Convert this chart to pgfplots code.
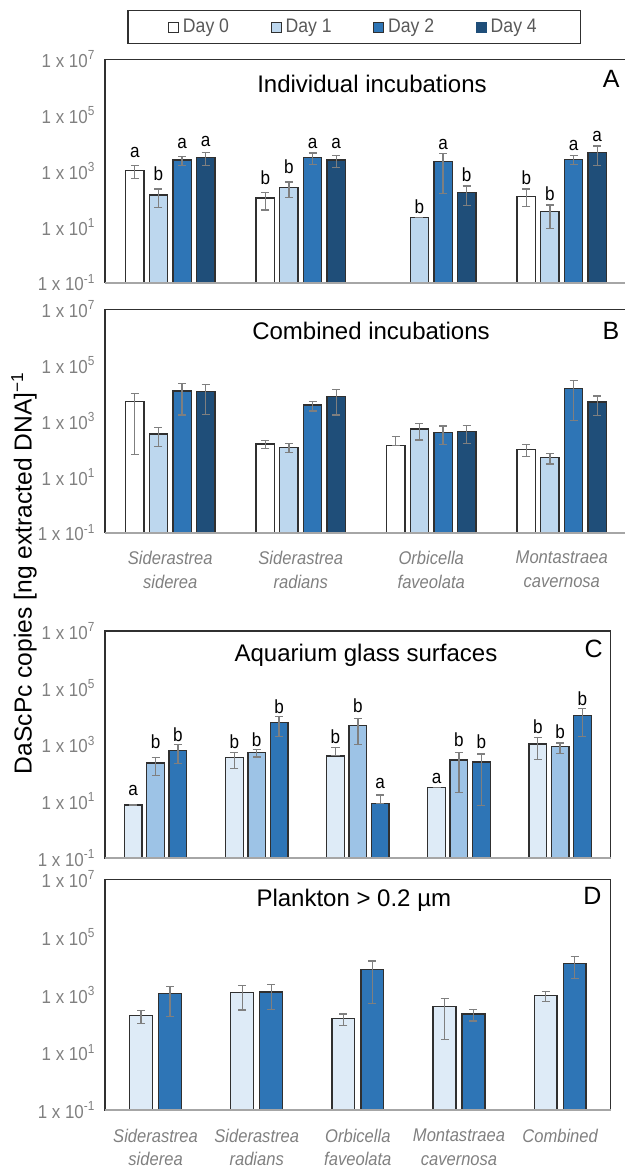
\documentclass[border=0pt]{standalone}
\usepackage{pgfplots}
\pgfplotsset{compat=1.18}
\usepackage{pgfplotstable}
\usepackage{fontspec}
\setmainfont{Liberation Sans}
\newfontfamily\narrow[FakeStretch=0.9]{Liberation Sans}

\definecolor{cD1}{HTML}{BDD7EE}
\definecolor{cD2}{HTML}{2E75B6}
\definecolor{cD4}{HTML}{1F4E79}
\definecolor{cL0}{HTML}{DEEBF7}
\definecolor{cL1}{HTML}{9DC3E6}
\definecolor{edge}{HTML}{303030}
\definecolor{errc}{HTML}{7F7F7F}
\definecolor{tickc}{HTML}{808080}
\definecolor{legc}{HTML}{595959}
\definecolor{basec}{HTML}{A6A6A6}

\pgfplotstableread{
x d0 d0p d0m d1 d1p d1m d2 d2p d2m d4 d4p d4m
0 1070 480 535 138 86 88 2455 856 906 3020 1657 1471
1 107 63 67 263 144 151 3020 1345 1360 2455 1176 1106
2 nan nan nan 21.9 0 0 2239 2027 2081 170 118 111
3 120 109 68 34.7 25.6 25.8 2570 1061 910 4571 3372 2986
}\tabA
\pgfplotstableread{
x y t
-0.2715 3020 a
-0.0905 468 b
0.0905 6166 a
0.2715 7413 a
0.7285 339 b
0.9095 813 b
1.0905 6457 a
1.2715 6457 a
1.9095 30.2 b
2.0905 6026 a
2.2715 407 b
2.7285 331 b
2.9095 91.2 b
3.0905 5248 a
3.2715 10965 a
}\letA
\pgfplotstableread{
x d0 d0p d0m d1 d1p d1m d2 d2p d2m d4 d4p d4m
0 4898 4874 4836 339 236 219 11749 10129 10127 11482 8935 9744
1 151 49 49 115 40 41 3715 1297 1424 7413 5770 5791
2 135 140 0 513 319 304 389 272 244 417 259 259
3 98 43 46 49 20 20 14454 14386 13407 4786 3157 3201
}\tabB
\pgfplotstableread{
x d0 d0p d0m d1 d1p d1m d2 d2p d2m
0 7.4 0 0 224 131 141 631 369 417
1 339 198 194 513 148 150 5888 3884 3938
2 398 378 0 4571 3747 3548 8.1 8.5 0
3 31 0 0 282 255 262 240 217 233
4 1047 691 745 832 290 353 10715 7906 8765
}\tabC
\pgfplotstableread{
x y t
-0.221 16.6 a
0 724 b
0.221 1259 b
0.779 724 b
1 832 b
1.221 12589 b
1.779 1096 b
2 13804 b
2.221 28.2 a
2.779 42.7 a
3 832 b
3.221 724 b
3.779 2455 b
4 1660 b
4.221 22909 b
}\letC
\pgfplotstableread{
x d1 d1p d1m d2 d2p d2m
0 195 93 93 1096 854 922
1 1230 908 935 1259 980 943
2 151 63 64 7586 7205 7096
3 398 361 369 214 102 91
4 933 355 358 12303 9077 8672
}\tabD

\pgfplotsset{
  /pgfplots/myerr/.style={
    /pgfplots/error bars/y dir=both,
    /pgfplots/error bars/y explicit,
    /pgfplots/error bars/error bar style={draw=errc, line width=0.65pt},
    /pgfplots/error bars/error mark options={rotate=90, mark size=2pt, draw=errc, line width=0.65pt}},
}

\begin{document}
\begin{tikzpicture}
\useasboundingbox (0,0) rectangle (312.5pt,585pt);

% ---------- Panel A ----------
\begin{axis}[
  scale only axis, ymode=log, log origin y=infty, ymin=0.1, ymax=1e7,
  ytick={0.1,10,1000,100000,10000000},
  yticklabels={1 x 10\textsuperscript{-1},1 x 10\textsuperscript{1},1 x 10\textsuperscript{3},1 x 10\textsuperscript{5},1 x 10\textsuperscript{7}},
  yticklabel style={font=\narrow\fontsize{9.4}{10}\selectfont, text=tickc, inner sep=0pt, xshift=-4.6pt},
  major tick length=0pt, minor tick length=0pt,
  axis line style={draw=edge, line width=0.6pt},
  clip=false,
  at={(52.5pt,443.65pt)}, anchor=south west,
  width=261pt, height=111.7pt,
  xmin=-0.5, xmax=3.5, xtick={0,1,2,3}, xticklabels={},
  title={Individual incubations},
  every axis title/.style={font=\fontsize{12}{14}\selectfont, anchor=north, inner sep=0pt, at={(0.5115,1)}, yshift=-7.85pt},
  legend columns=4,
  legend image code/.code={\draw[#1] (0pt,-2.5pt) rectangle (5pt,2.5pt);},
  legend style={at={(0.4778,1)}, anchor=south, yshift=7.65pt, draw=edge, line width=0.6pt,
    font=\narrow\fontsize{9.8}{11}\selectfont, text=legc, inner xsep=20pt, inner ysep=2pt,
    /tikz/every even column/.append style={column sep=18.75pt}},
]
\addlegendimage{fill=white, draw=edge, line width=0.5pt}
\addlegendentry{Day 0}
\addlegendimage{fill=cD1, draw=edge, line width=0.5pt}
\addlegendentry{Day 1}
\addlegendimage{fill=cD2, draw=edge, line width=0.5pt}
\addlegendentry{Day 2}
\addlegendimage{fill=cD4, draw=cD4, line width=0.5pt}
\addlegendentry{Day 4}
\addplot[ybar, bar width=0.141, bar shift=0pt, fill=white, draw=edge, line width=0.65pt, forget plot, myerr]
  table[x expr=\thisrow{x}-0.2715, y=d0, y error plus=d0p, y error minus=d0m]{\tabA};
\addplot[ybar, bar width=0.141, bar shift=0pt, fill=cD1, draw=edge, line width=0.65pt, forget plot, myerr]
  table[x expr=\thisrow{x}-0.0905, y=d1, y error plus=d1p, y error minus=d1m]{\tabA};
\addplot[ybar, bar width=0.141, bar shift=0pt, fill=cD2, draw=edge, line width=0.65pt, forget plot, myerr]
  table[x expr=\thisrow{x}+0.0905, y=d2, y error plus=d2p, y error minus=d2m]{\tabA};
\addplot[ybar, bar width=0.141, bar shift=0pt, fill=cD4, draw=edge, line width=0.65pt, forget plot, myerr]
  table[x expr=\thisrow{x}+0.2715, y=d4, y error plus=d4p, y error minus=d4m]{\tabA};
\addplot[draw=none, mark=none, forget plot, nodes near coords, point meta=explicit symbolic,
  every node near coord/.append style={anchor=base, inner sep=0pt, font=\narrow\fontsize{9.5}{10}\selectfont, text=black}]
  table[x=x, y=y, meta=t]{\letA};
\draw[basec, line width=1.1pt] (rel axis cs:0,0) -- (rel axis cs:1,0);
\node[anchor=north east, inner sep=0pt, font=\fontsize{12.5}{14}\selectfont] at (rel axis cs:0.9866,0.952) {A};
\end{axis}

% ---------- Panel B ----------
\begin{axis}[
  scale only axis, ymode=log, log origin y=infty, ymin=0.1, ymax=1e7,
  ytick={0.1,10,1000,100000,10000000},
  yticklabels={1 x 10\textsuperscript{-1},1 x 10\textsuperscript{1},1 x 10\textsuperscript{3},1 x 10\textsuperscript{5},1 x 10\textsuperscript{7}},
  yticklabel style={font=\narrow\fontsize{9.4}{10}\selectfont, text=tickc, inner sep=0pt, xshift=-4.6pt},
  xticklabel style={align=center, font=\narrow\itshape\fontsize{9.2}{11.85}\selectfont, text=tickc, inner sep=0pt, yshift=-9pt},
  major tick length=0pt, minor tick length=0pt,
  axis line style={draw=edge, line width=0.6pt},
  clip=false,
  at={(52.5pt,318.65pt)}, anchor=south west,
  width=261pt, height=111.7pt,
  xmin=-0.5, xmax=3.5, xtick={0,1,2,3},
  xticklabels={{Siderastrea\\siderea},{Siderastrea\\radians},{Orbicella\\faveolata},{Montastraea\\cavernosa}},
  title={Combined incubations},
  every axis title/.style={font=\fontsize{12}{14}\selectfont, anchor=north, inner sep=0pt, at={(0.5096,1)}, yshift=-6.2pt},
]
\addplot[ybar, bar width=0.141, bar shift=0pt, fill=white, draw=edge, line width=0.65pt, forget plot, myerr]
  table[x expr=\thisrow{x}-0.2715, y=d0, y error plus=d0p, y error minus=d0m]{\tabB};
\addplot[ybar, bar width=0.141, bar shift=0pt, fill=cD1, draw=edge, line width=0.65pt, forget plot, myerr]
  table[x expr=\thisrow{x}-0.0905, y=d1, y error plus=d1p, y error minus=d1m]{\tabB};
\addplot[ybar, bar width=0.141, bar shift=0pt, fill=cD2, draw=edge, line width=0.65pt, forget plot, myerr]
  table[x expr=\thisrow{x}+0.0905, y=d2, y error plus=d2p, y error minus=d2m]{\tabB};
\addplot[ybar, bar width=0.141, bar shift=0pt, fill=cD4, draw=edge, line width=0.65pt, forget plot, myerr]
  table[x expr=\thisrow{x}+0.2715, y=d4, y error plus=d4p, y error minus=d4m]{\tabB};
\draw[basec, line width=1.1pt] (rel axis cs:0,0) -- (rel axis cs:1,0);
\node[anchor=north east, inner sep=0pt, font=\fontsize{12.5}{14}\selectfont] at (rel axis cs:0.986,0.9445) {B};
\end{axis}

% ---------- Panel C ----------
\begin{axis}[
  scale only axis, ymode=log, log origin y=infty, ymin=0.1, ymax=1e7,
  ytick={0.1,10,1000,100000,10000000},
  yticklabels={1 x 10\textsuperscript{-1},1 x 10\textsuperscript{1},1 x 10\textsuperscript{3},1 x 10\textsuperscript{5},1 x 10\textsuperscript{7}},
  yticklabel style={font=\narrow\fontsize{9.4}{10}\selectfont, text=tickc, inner sep=0pt, xshift=-4.6pt},
  major tick length=0pt, minor tick length=0pt,
  axis line style={draw=edge, line width=0.6pt},
  clip=false,
  at={(52.5pt,156pt)}, anchor=south west,
  width=252.85pt, height=113.5pt,
  xmin=-0.5, xmax=4.5, xtick={0,1,2,3,4}, xticklabels={},
  title={Aquarium glass surfaces},
  every axis title/.style={font=\fontsize{12}{14}\selectfont, anchor=north, inner sep=0pt, at={(0.516,1)}, yshift=-6.15pt},
]
\addplot[ybar, bar width=0.175, bar shift=0pt, fill=cL0, draw=edge, line width=0.65pt, forget plot, myerr]
  table[x expr=\thisrow{x}-0.221, y=d0, y error plus=d0p, y error minus=d0m]{\tabC};
\addplot[ybar, bar width=0.175, bar shift=0pt, fill=cL1, draw=edge, line width=0.65pt, forget plot, myerr]
  table[x=x, y=d1, y error plus=d1p, y error minus=d1m]{\tabC};
\addplot[ybar, bar width=0.175, bar shift=0pt, fill=cD2, draw=edge, line width=0.65pt, forget plot, myerr]
  table[x expr=\thisrow{x}+0.221, y=d2, y error plus=d2p, y error minus=d2m]{\tabC};
\addplot[draw=none, mark=none, forget plot, nodes near coords, point meta=explicit symbolic,
  every node near coord/.append style={anchor=base, inner sep=0pt, font=\narrow\fontsize{9.5}{10}\selectfont, text=black}]
  table[x=x, y=y, meta=t]{\letC};
\draw[basec, line width=1.1pt] (rel axis cs:0,0) -- (rel axis cs:1,0);
\node[anchor=north east, inner sep=0pt, font=\fontsize{12.5}{14}\selectfont] at (rel axis cs:0.9848,0.96) {C};
\end{axis}

% ---------- Panel D ----------
\begin{axis}[
  scale only axis, ymode=log, log origin y=infty, ymin=0.1, ymax=1e7,
  ytick={0.1,10,1000,100000,10000000},
  yticklabels={1 x 10\textsuperscript{-1},1 x 10\textsuperscript{1},1 x 10\textsuperscript{3},1 x 10\textsuperscript{5},1 x 10\textsuperscript{7}},
  yticklabel style={font=\narrow\fontsize{9.4}{10}\selectfont, text=tickc, inner sep=0pt, xshift=-4.6pt},
  xticklabel style={align=center, font=\narrow\itshape\fontsize{9.2}{11.85}\selectfont, text=tickc, inner sep=0pt, yshift=-9pt},
  major tick length=0pt, minor tick length=0pt,
  axis line style={draw=edge, line width=0.6pt},
  clip=false,
  at={(52.5pt,29.85pt)}, anchor=south west,
  width=252.85pt, height=115.5pt,
  xmin=-0.5, xmax=4.5, xtick={0,1,2,3,4},
  xticklabels={{Siderastrea\\siderea},{Siderastrea\\radians},{Orbicella\\faveolata},{Montastraea\\cavernosa},{Combined\\\strut}},
  title={Plankton > 0.2 µm},
  every axis title/.style={font=\fontsize{12}{14}\selectfont, anchor=north, inner sep=0pt, at={(0.492,1)}, yshift=-4.5pt},
]
\addplot[ybar, bar width=0.226, bar shift=0pt, fill=cL0, draw=edge, line width=0.65pt, forget plot, myerr]
  table[x expr=\thisrow{x}-0.143, y=d1, y error plus=d1p, y error minus=d1m]{\tabD};
\addplot[ybar, bar width=0.226, bar shift=0pt, fill=cD2, draw=edge, line width=0.65pt, forget plot, myerr]
  table[x expr=\thisrow{x}+0.143, y=d2, y error plus=d2p, y error minus=d2m]{\tabD};
\draw[basec, line width=1.1pt] (rel axis cs:0,0) -- (rel axis cs:1,0);
\node[anchor=north east, inner sep=0pt, font=\fontsize{12.5}{14}\selectfont] at (rel axis cs:0.9824,0.968) {D};
\end{axis}

\node[rotate=90, font=\fontsize{12.3}{14}\selectfont] at (12pt,298.5pt) {DaScPc copies [ng extracted DNA]\textsuperscript{−1}};
\end{tikzpicture}
\end{document}
